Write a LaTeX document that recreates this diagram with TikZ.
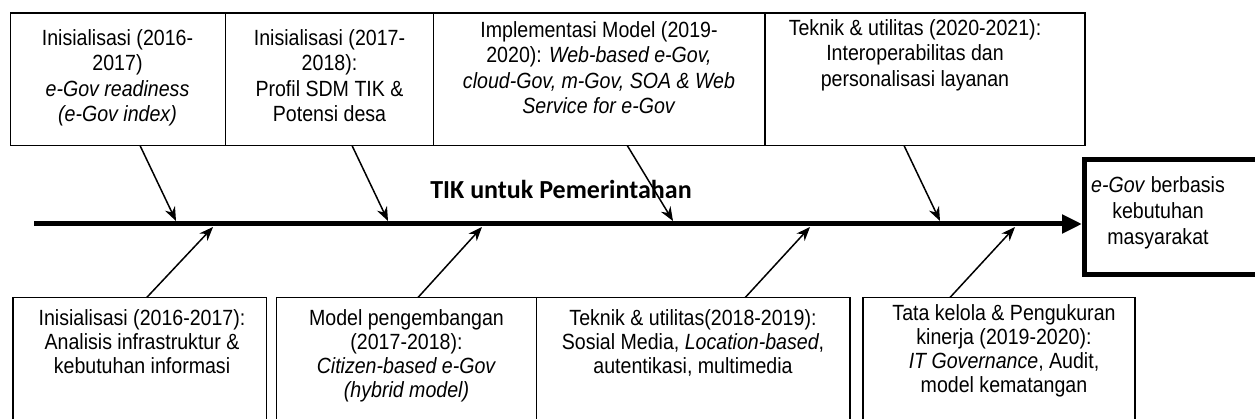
\documentclass[tikz,border=0pt]{standalone}
\usepackage{fontspec}
\setmainfont{Liberation Sans}[FakeStretch=0.89]
\newfontfamily\calibri{Carlito}
\usetikzlibrary{arrows.meta}
\tikzset{
	boxframe/.style={draw, line width=1.6pt, inner sep=0pt, outer sep=0pt, anchor=north west},
	uptext/.style={align=center, inner sep=0pt, anchor=north, font=\fontsize{22}{25.5}\selectfont},
	downtext/.style={uptext, font=\fontsize{22}{24}\selectfont},
	cause/.style={line width=1.5pt, -{Stealth[length=14pt,width=11pt]}},
	spine/.style={line width=5pt, -{Triangle[length=20pt,width=18pt]}},
	goalframe/.style={line width=5pt},
}

\begin{document}
\begin{tikzpicture}[x=1pt, y=-1pt]
	\useasboundingbox (0,0) rectangle (1255,419);
	% upper boxes
	\node[boxframe, minimum width=215pt, minimum height=132.5pt] (t1) at (10.5,13) {};
	\node[boxframe, minimum width=208pt, minimum height=132.5pt] (t2) at (225.5,13) {};
	\node[boxframe, minimum width=331.5pt, minimum height=132.5pt] (t3) at (433.5,13) {};
	\node[boxframe, minimum width=320pt, minimum height=132.5pt] (t4) at (765,13) {};
	\node[uptext] (t1txt) at (117.5,29) {Inisialisasi (2016-\\2017)\\\textit{e-Gov readiness}\\\textit{(e-Gov index)}};
	\node[uptext] (t2txt) at (329.5,29) {Inisialisasi (2017-\\2018):\\Profil SDM TIK \&\\Potensi desa};
	\node[uptext] (t3txt) at (599,21) {Implementasi Model (2019-\\2020): \textit{Web-based e-Gov,}\\\textit{cloud-Gov, m-Gov, SOA \& Web}\\\textit{Service for e-Gov}};
	\node[uptext] (t4txt) at (915,19) {Teknik \& utilitas (2020-2021):\\Interoperabilitas dan\\personalisasi layanan};
	% lower boxes
	\node[boxframe, minimum width=253.5pt, minimum height=140pt] (b1) at (13,297.5) {};
	\node[boxframe, minimum width=260pt, minimum height=140pt] (b2) at (276.5,297.5) {};
	\node[boxframe, minimum width=313.5pt, minimum height=140pt] (b3) at (536.5,297.5) {};
	\node[boxframe, minimum width=272pt, minimum height=140pt] (b4) at (863,297.5) {};
	\node[downtext] (b1txt) at (142,309) {Inisialisasi (2016-2017):\\Analisis infrastruktur \&\\kebutuhan informasi};
	\node[downtext] (b2txt) at (406.5,309) {Model pengembangan\\(2017-2018):\\\textit{Citizen-based e-Gov}\\\textit{(hybrid model)}};
	\node[downtext] (b3txt) at (693,309) {Teknik \& utilitas(2018-2019):\\Sosial Media, \textit{Location-based},\\autentikasi, multimedia};
	\node[downtext] (b4txt) at (1004,304) {Tata kelola \& Pengukuran\\kinerja (2019-2020):\\\textit{IT Governance}, Audit,\\model kematangan};
	% effect
	\draw[goalframe] (1262,160) -| (1084.5,275) -- (1262,275);
	\node[uptext, font=\fontsize{22}{26}\selectfont] (goal) at (1158,176) {\textit{e-Gov} berbasis\\kebutuhan\\masyarakat};
	% spine
	\coordinate (tail) at (34,224);
	\coordinate (head) at (1082,224);
	\draw[spine] (tail) -- (head);
	\node[font=\calibri\bfseries\fontsize{26}{30}\selectfont] (title) at (561,189) {TIK untuk Pemerintahan};
	% bones
	\coordinate (c1) at (176,221);
	\coordinate (c2) at (388,221);
	\coordinate (c3) at (673,221);
	\coordinate (c4) at (940,221);
	\coordinate (d1) at (213,227);
	\coordinate (d2) at (482,227);
	\coordinate (d3) at (810,227);
	\coordinate (d4) at (1015,227);
	\draw[cause] ([xshift=22pt]t1.south) -- (c1);
	\draw[cause] ([xshift=22.5pt]t2.south) -- (c2);
	\draw[cause] ([xshift=28pt]t3.south) -- (c3);
	\draw[cause] ([xshift=-21pt]t4.south) -- (c4);
	\draw[cause] ([xshift=7pt]b1.north) -- (d1);
	\draw[cause] ([xshift=11.5pt]b2.north) -- (d2);
	\draw[cause] ([xshift=52pt]b3.north) -- (d3);
	\draw[cause] ([xshift=-49pt]b4.north) -- (d4);
\end{tikzpicture}
\end{document}
